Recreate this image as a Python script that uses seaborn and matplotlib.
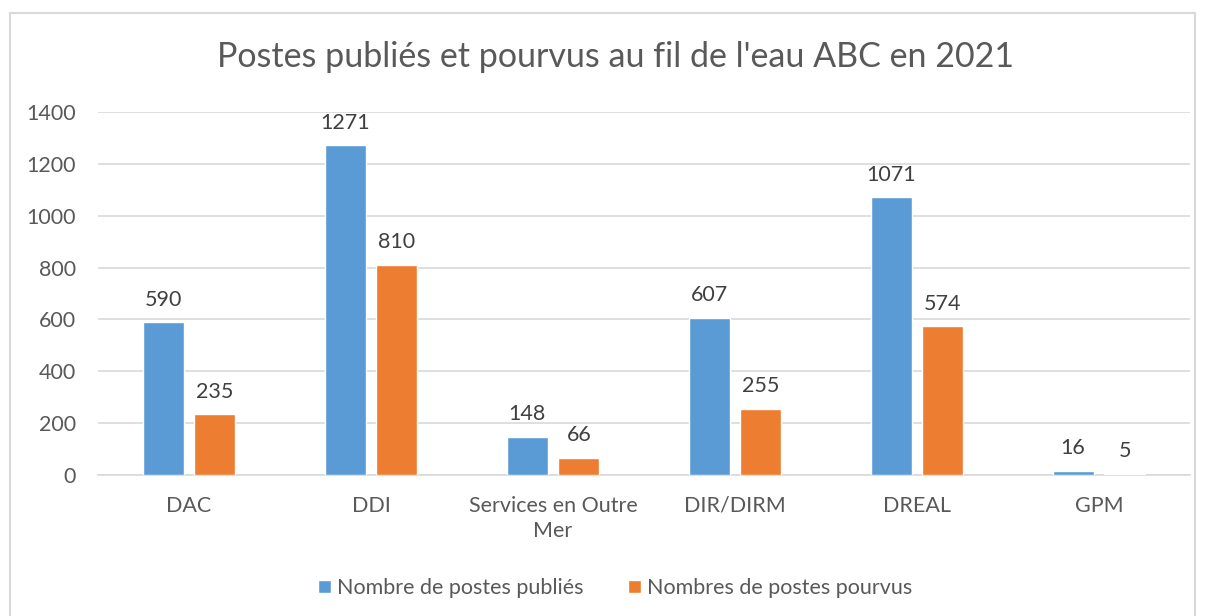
import pandas as pd
import matplotlib.pyplot as plt
import seaborn as sns
from matplotlib.patches import Rectangle, Patch

# données
categories = ["DAC", "DDI", "Services en Outre\nMer", "DIR/DIRM", "DREAL", "GPM"]
postes_publies = [590, 1271, 148, 607, 1071, 16]
postes_pourvus = [235, 810, 66, 255, 574, 5]
series = ["Nombre de postes publiés", "Nombres de postes pourvus"]
y_ticks = [0, 200, 400, 600, 800, 1000, 1200, 1400]

colors = ["#5B9BD5", "#ED7D31"]
gray_txt = "#595959"

df = pd.DataFrame({
    "categorie": categories * 2,
    "serie": [series[0]] * len(categories) + [series[1]] * len(categories),
    "valeur": postes_publies + postes_pourvus,
})

sns.set_style("white")
plt.rcParams["font.family"] = ["Lato", "DejaVu Sans"]

fig = plt.figure(figsize = (12.06, 6.16), dpi = 100)
ax = fig.add_axes([0.0813, 0.2289, 0.9054, 0.5893])

sns.barplot(data = df, x = "categorie", y = "valeur", hue = "serie",
            order = categories, hue_order = series, palette = colors,
            width = 0.57, gap = 0.21, ax = ax, legend = False, saturation = 1,
            zorder = 3)

for cont in ax.containers:
    ax.bar_label(cont, fontsize = 15.5, color = "#404040", padding = 9)

ax.set_ylim(0, 1400)
ax.set_xlim(-0.5, len(categories) - 0.5)
ax.set_yticks(y_ticks)
ax.yaxis.grid(True, color = "#D9D9D9", linewidth = 1.2)
ax.set_axisbelow(True)
for s in ["top", "right", "left"]:
    ax.spines[s].set_visible(False)
ax.spines["bottom"].set_color("#D9D9D9")
ax.spines["bottom"].set_linewidth(1.2)
ax.tick_params(axis = "both", length = 0, labelsize = 15.5, labelcolor = gray_txt)
ax.tick_params(axis = "y", pad = 16)
ax.tick_params(axis = "x", pad = 15)
for lbl in ax.get_xticklabels():
    lbl.set_linespacing(1.35)
ax.set_xlabel("")
ax.set_ylabel("")

fig.text(0.51, 1 - 57 / 616, "Postes publiés et pourvus au fil de l'eau ABC en 2021",
         ha = "center", va = "center", fontsize = 24.5, color = gray_txt)

handles = [Patch(facecolor = c) for c in colors]
fig.legend(handles, series, loc = "center", bbox_to_anchor = (0.51, 1 - 588 / 616),
           ncol = 2, frameon = False, fontsize = 15.5, labelcolor = gray_txt,
           handlelength = 0.6, handleheight = 0.6, handletextpad = 0.25, columnspacing = 2.1)

# cadre du graphique
fig.patches.append(Rectangle((10 / 1206, -0.05), 1185 / 1206, 1 - 13 / 616 + 0.05,
                             transform = fig.transFigure, fill = False,
                             edgecolor = "#D9D9D9", linewidth = 1.5))

fig.savefig("out.png", dpi = 100)
